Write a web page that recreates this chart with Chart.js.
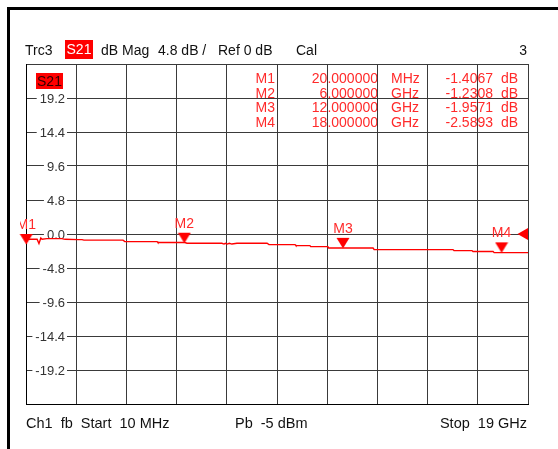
<!DOCTYPE html>
<html><head><meta charset="utf-8">
<script src="https://cdn.jsdelivr.net/npm/chart.js@4.4.0/dist/chart.umd.min.js"></script>
<style>
html,body{margin:0;padding:0;background:#fff;}
#wrap{position:relative;width:558px;height:449px;overflow:hidden;font-family:"Liberation Sans",Arial,sans-serif;font-size:14px;color:#111;}
#c{position:absolute;left:0;top:0;}
.t{position:absolute;white-space:pre;line-height:14px;height:14px;}
.ft{font-size:14.5px;}
.r{text-align:right;}
.fT{position:absolute;left:7px;top:7px;width:551px;height:3px;background:#000;}
.fL{position:absolute;left:7px;top:7px;width:3px;height:442px;background:#000;}
.box{position:absolute;background:#f00;text-align:center;white-space:pre;}
</style></head>
<body><div id="wrap">
<canvas id="c" width="558" height="449"></canvas>
<div class="fT"></div><div class="fL"></div>
<div class="t" style="left:25px;top:43px">Trc3</div>
<div class="box" style="left:65px;top:40px;width:28px;height:19px;line-height:19px;color:#fff">S21</div>
<div class="t" style="left:101px;top:43px">dB Mag</div>
<div class="t" style="left:158px;top:43px">4.8 dB /</div>
<div class="t" style="left:218px;top:43px">Ref 0 dB</div>
<div class="t" style="left:296px;top:43px">Cal</div>
<div class="t r" style="right:31px;top:43px">3</div>
<div class="box" style="left:36px;top:73px;width:27px;height:16px;line-height:16px;color:#300">S21</div>
<div class="t ft" style="left:26px;top:416px">Ch1  fb  Start  10 MHz</div>
<div class="t ft" style="left:235px;top:416px">Pb  -5 dBm</div>
<div class="t ft r" style="right:31px;top:416px">Stop  19 GHz</div>
</div>
<script>
// ---- data ----
const startGHz = 0.01;
const stopGHz = 19;
const xDivisions = 10;
const freqGHz = [0.01, 0.05, 0.28, 0.43, 0.50, 0.57, 0.62, 0.80, 1.37, 1.49, 1.98, 2.13, 2.20, 3.68, 3.75, 4.97, 5.00, 6.02, 6.10, 7.42, 7.50, 7.55, 7.62, 7.70, 7.80, 7.99, 9.13, 9.20, 10.19, 10.22, 10.75, 10.78, 11.43, 11.46, 13.14, 13.18, 16.16, 16.20, 16.88, 16.92, 17.68, 17.72, 19.00];
const s21dB = [-1.40, -0.75, -0.75, -0.75, -1.36, -0.56, -0.75, -0.65, -0.65, -0.75, -0.79, -0.80, -0.86, -0.86, -1.07, -1.07, -1.21, -1.21, -1.31, -1.31, -1.42, -1.31, -1.42, -1.31, -1.42, -1.31, -1.31, -1.50, -1.50, -1.64, -1.64, -1.78, -1.78, -1.98, -1.98, -2.20, -2.20, -2.34, -2.34, -2.48, -2.48, -2.63, -2.63];
const markerNames = ['M1', 'M2', 'M3', 'M4'];
const markerFreqGHz = [0.02, 6, 12, 18];
const markerFreqText = ['20.000000', '6.000000', '12.000000', '18.000000'];
const markerUnits = ['MHz', 'GHz', 'GHz', 'GHz'];
const markerdB = [-1.4067, -1.2308, -1.9571, -2.5893];
const yTickValues = [24, 19.2, 14.4, 9.6, 4.8, 0, -4.8, -9.6, -14.4, -19.2, -24];
const yTickLabels = ['', '19.2', '14.4', '9.6', '4.8', '0.0', '-4.8', '-9.6', '-14.4', '-19.2', ''];
const refLeveldB = 0;

const xGridGHz = [];
for (let i = 0; i <= xDivisions; i++) xGridGHz.push(startGHz + i * (stopGHz - startGHz) / xDivisions);

const FONT = '14px "Liberation Sans", Arial, sans-serif';
const RED = '#ff0000';
const MRED = '#ff2a2a';

// downward triangle image with tip at its centre
const tri = document.createElement('canvas');
tri.width = 14; tri.height = 22;
(function () {
  const g = tri.getContext('2d');
  g.fillStyle = RED;
  g.beginPath(); g.moveTo(0.5, 1); g.lineTo(13.5, 1); g.lineTo(7, 11.5); g.closePath(); g.fill();
})();

const markerTable = {
  id: 'markerTable',
  beforeDraw(chart) {
    const ctx = chart.ctx;
    ctx.save();
    ctx.font = FONT;
    ctx.fillStyle = MRED;
    ctx.textBaseline = 'alphabetic';
    markerNames.forEach((n, i) => {
      const y = 83 + i * 14.5;
      ctx.textAlign = 'right';
      ctx.fillText(n, 275, y);
      ctx.fillText(markerFreqText[i], 378, y);
      ctx.fillText(markerdB[i].toFixed(4), 493, y);
      ctx.textAlign = 'left';
      ctx.fillText(markerUnits[i], 391, y);
      ctx.fillText('dB', 501, y);
    });
    ctx.restore();
  }
};

const yLabels = {
  id: 'yLabels',
  beforeDatasetsDraw(chart) {
    const ctx = chart.ctx, ys = chart.scales.y;
    ctx.save();
    ctx.font = '13px "Liberation Sans", Arial, sans-serif';
    ctx.textBaseline = 'middle';
    ctx.textAlign = 'right';
    ys.ticks.forEach((t, i) => {
      const lab = yTickLabels[i];
      if (!lab) return;
      const y = ys.getPixelForValue(t.value);
      const w = ctx.measureText(lab).width;
      ctx.fillStyle = '#fff';
      ctx.fillRect(65 - w - 3, y - 6, w + 5, 12);
      ctx.fillStyle = '#333';
      ctx.fillText(lab, 65, y + 1);
    });
    ctx.restore();
  }
};

const markerLabels = {
  id: 'markerLabels',
  afterDatasetsDraw(chart) {
    const ctx = chart.ctx;
    const meta = chart.getDatasetMeta(1);
    ctx.save();
    ctx.beginPath(); ctx.rect(20, 0, 538, 449); ctx.clip();
    ctx.font = FONT;
    ctx.fillStyle = MRED;
    ctx.textAlign = 'center';
    ctx.textBaseline = 'alphabetic';
    meta.data.forEach((el, i) => {
      ctx.fillText(markerNames[i], el.x, el.y - 15);
    });
    ctx.restore();
  }
};

new Chart(document.getElementById('c'), {
  type: 'scatter',
  data: {
    datasets: [
      {
        type: 'line',
        data: freqGHz.map((f, i) => ({ x: f, y: s21dB[i] })),
        borderColor: RED, borderWidth: 1.4, pointRadius: 0, tension: 0, fill: false
      },
      {
        type: 'scatter',
        data: markerFreqGHz.map((f, i) => ({ x: f, y: markerdB[i] })),
        pointStyle: tri, pointRadius: 7, clip: false
      },
      {
        type: 'scatter',
        data: [{ x: stopGHz, y: refLeveldB }],
        pointStyle: 'triangle', rotation: 270, pointRadius: 10.5,
        backgroundColor: RED, borderColor: RED, borderWidth: 0,
        clip: { left: 30, top: 30, right: 0, bottom: 30 }
      }
    ]
  },
  options: {
    responsive: false,
    animation: false,
    devicePixelRatio: 1,
    layout: { padding: { left: 26, top: 64, right: 30, bottom: 45 } },
    plugins: { legend: { display: false }, tooltip: { enabled: false } },
    events: [],
    scales: {
      x: {
        type: 'linear', min: startGHz, max: stopGHz,
        afterBuildTicks: s => { s.ticks = xGridGHz.map(v => ({ value: v })); },
        ticks: { display: false },
        grid: { color: '#3a3a3a', lineWidth: 1, drawTicks: false },
        border: { display: true, color: '#000', width: 1 }
      },
      y: {
        type: 'linear', min: -24, max: 24,
        afterBuildTicks: s => { s.ticks = yTickValues.map(v => ({ value: v })); },
        ticks: { display: false },
        grid: { color: '#3a3a3a', lineWidth: 1, drawTicks: false },
        border: { display: true, color: '#000', width: 1 }
      }
    }
  },
  plugins: [markerTable, yLabels, markerLabels]
});
</script>
</body></html>
